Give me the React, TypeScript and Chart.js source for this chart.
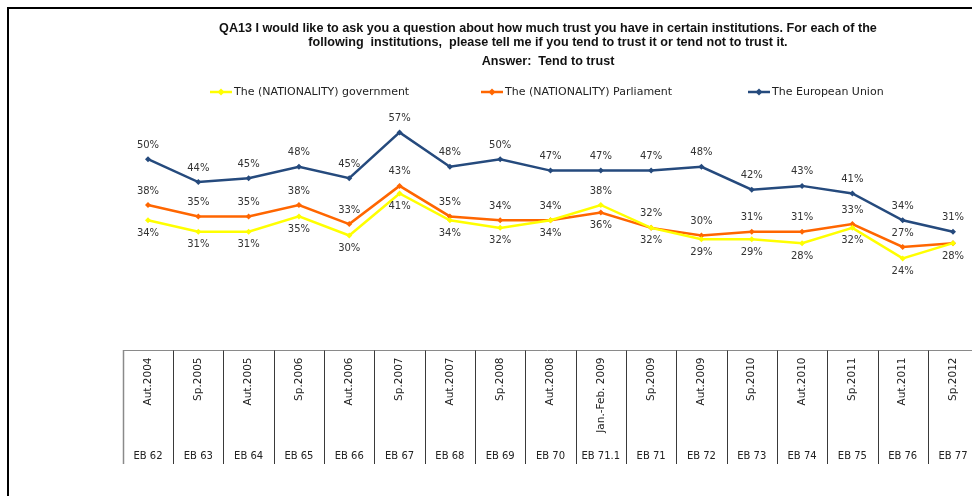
import React, { useEffect, useRef } from "react";
import { Chart, registerables } from "chart.js";

Chart.register(...registerables);

const categories = [
  "Aut.2004", "Sp.2005", "Aut.2005", "Sp.2006", "Aut.2006", "Sp.2007", "Aut.2007", "Sp.2008",
  "Aut.2008", "Jan.-Feb. 2009", "Sp.2009", "Aut.2009", "Sp.2010", "Aut.2010", "Sp.2011",
  "Aut.2011", "Sp.2012",
];
const waves = [
  "EB 62", "EB 63", "EB 64", "EB 65", "EB 66", "EB 67", "EB 68", "EB 69", "EB 70", "EB 71.1",
  "EB 71", "EB 72", "EB 73", "EB 74", "EB 75", "EB 76", "EB 77",
];
const government = [34, 31, 31, 35, 30, 41, 34, 32, 34, 38, 32, 29, 29, 28, 32, 24, 28];
const parliament = [38, 35, 35, 38, 33, 43, 35, 34, 34, 36, 32, 30, 31, 31, 33, 27, 28];
const europeanUnion = [50, 44, 45, 48, 45, 57, 48, 50, 47, 47, 47, 48, 42, 43, 41, 34, 31];

const seriesNames = [
  "The (NATIONALITY) government",
  "The (NATIONALITY) Parliament",
  "The European Union",
];
const colors = ["#FFFF00", "#FF6600", "#254A7D"];

const FONT = '"DejaVu Sans", Verdana, sans-serif';

const labelsPlugin = {
  id: "valueLabels",
  afterDatasetsDraw(chart: any) {
    const ctx = chart.ctx;
    ctx.save();
    ctx.font = `10px ${FONT}`;
    ctx.fillStyle = "#333333";
    ctx.textAlign = "center";
    ctx.textBaseline = "middle";
    chart.data.datasets.forEach((ds: any, di: number) => {
      const meta = chart.getDatasetMeta(di);
      meta.data.forEach((pt: any, i: number) => {
        const v = ds.data[i];
        let above: boolean;
        if (di === 2) above = true;
        else if (di === 1) {
          if (i === categories.length - 1) return; // coincides with government label
          above = v >= government[i];
        } else above = v > parliament[i];
        const y = above ? pt.y - 14 : pt.y + 13;
        ctx.fillText(v + "%", pt.x, y);
      });
    });
    ctx.restore();
  },
};

const tablePlugin = {
  id: "table",
  afterDraw(chart: any) {
    const ctx = chart.ctx;
    const x = chart.scales.x;
    const y = chart.scales.y;
    const step = x.getPixelForValue(1) - x.getPixelForValue(0);
    const top = Math.round(y.getPixelForValue(0)) + 0.5;
    const bottom = 464;
    ctx.save();
    ctx.strokeStyle = "#8a8a8a";
    ctx.lineWidth = 1;
    ctx.beginPath();
    ctx.moveTo(x.getPixelForValue(0) - step / 2, top);
    ctx.lineTo(chart.width, top);
    ctx.stroke();
    categories.forEach((_, i) => {
      const bx = Math.round(x.getPixelForValue(i) - step / 2) + 0.5;
      ctx.strokeStyle = i === 0 ? "#8a8a8a" : "#3a3a3a";
      ctx.lineWidth = i === 0 ? 1.5 : 1;
      ctx.beginPath();
      ctx.moveTo(bx, top);
      ctx.lineTo(bx, bottom);
      ctx.stroke();
    });
    ctx.fillStyle = "#222222";
    categories.forEach((c, i) => {
      const cx = x.getPixelForValue(i);
      ctx.save();
      ctx.font = `10.5px ${FONT}`;
      ctx.translate(cx, top + 7);
      ctx.rotate(-Math.PI / 2);
      ctx.textAlign = "right";
      ctx.textBaseline = "middle";
      ctx.fillText(c, 0, 0);
      ctx.restore();
      ctx.font = `10px ${FONT}`;
      ctx.textAlign = "center";
      ctx.textBaseline = "middle";
      ctx.fillText(waves[i], cx, 456);
    });
    ctx.restore();
  },
};

const legendPlugin = {
  id: "customLegend",
  afterDraw(chart: any) {
    const ctx = chart.ctx;
    const starts = [210, 481, 748];
    const ly = 92;
    ctx.save();
    ctx.font = `11px ${FONT}`;
    ctx.textBaseline = "middle";
    ctx.textAlign = "left";
    seriesNames.forEach((name, i) => {
      const sx = starts[i];
      ctx.strokeStyle = colors[i];
      ctx.lineWidth = 2.5;
      ctx.beginPath();
      ctx.moveTo(sx, ly);
      ctx.lineTo(sx + 22, ly);
      ctx.stroke();
      ctx.fillStyle = colors[i];
      ctx.beginPath();
      ctx.moveTo(sx + 11, ly - 3.5);
      ctx.lineTo(sx + 14.5, ly);
      ctx.lineTo(sx + 11, ly + 3.5);
      ctx.lineTo(sx + 7.5, ly);
      ctx.closePath();
      ctx.fill();
      ctx.fillStyle = "#222222";
      ctx.fillText(name, sx + 24, ly);
    });
    ctx.restore();
  },
};

export default function App() {
  const ref = useRef<HTMLCanvasElement>(null);
  useEffect(() => {
    if (!ref.current) return;
    const mk = (data: number[], i: number) => ({
      label: seriesNames[i],
      data,
      borderColor: colors[i],
      backgroundColor: colors[i],
      borderWidth: 2.5,
      pointStyle: "rectRot",
      pointRadius: 3,
      pointBorderWidth: 0,
      tension: 0,
    });
    const chart = new Chart(ref.current, {
      type: "line",
      data: {
        labels: categories,
        datasets: [mk(government, 0), mk(parliament, 1), mk(europeanUnion, 2)],
      },
      options: {
        responsive: false,
        animation: false,
        devicePixelRatio: 1,
        layout: { padding: { left: 148, right: 19, top: 121, bottom: 146 } },
        plugins: { legend: { display: false }, tooltip: { enabled: false }, title: { display: false } },
        scales: {
          x: { type: "category", display: false, offset: false },
          y: { display: false, min: 0, max: 60 },
        },
      },
      plugins: [labelsPlugin, tablePlugin, legendPlugin],
    } as any);
    return () => chart.destroy();
  }, []);

  const titleStyle: React.CSSProperties = {
    position: "fixed",
    left: 0,
    width: 1096,
    textAlign: "center",
    fontFamily: '"Liberation Sans", Arial, sans-serif',
    fontWeight: "bold",
    fontSize: 12.6,
    color: "#111",
    whiteSpace: "nowrap",
    lineHeight: "14px",
  };

  return (
    <div>
      <div
        style={{
          position: "fixed",
          left: 7,
          top: 7,
          width: 980,
          height: 500,
          borderTop: "2px solid #000",
          borderLeft: "2px solid #000",
        }}
      />
      <canvas
        ref={ref}
        width={972}
        height={496}
        style={{ position: "fixed", left: 0, top: 0, width: 972, height: 496 }}
      />
      <div style={{ ...titleStyle, top: 21 }}>
        QA13 I would like to ask you a question about how much trust you have in certain institutions. For each of the
      </div>
      <div style={{ ...titleStyle, top: 35 }}>
        following&nbsp; institutions,&nbsp; please tell me if you tend to trust it or tend not to trust it.
      </div>
      <div style={{ ...titleStyle, top: 54 }}>Answer:&nbsp; Tend to trust</div>
    </div>
  );
}
